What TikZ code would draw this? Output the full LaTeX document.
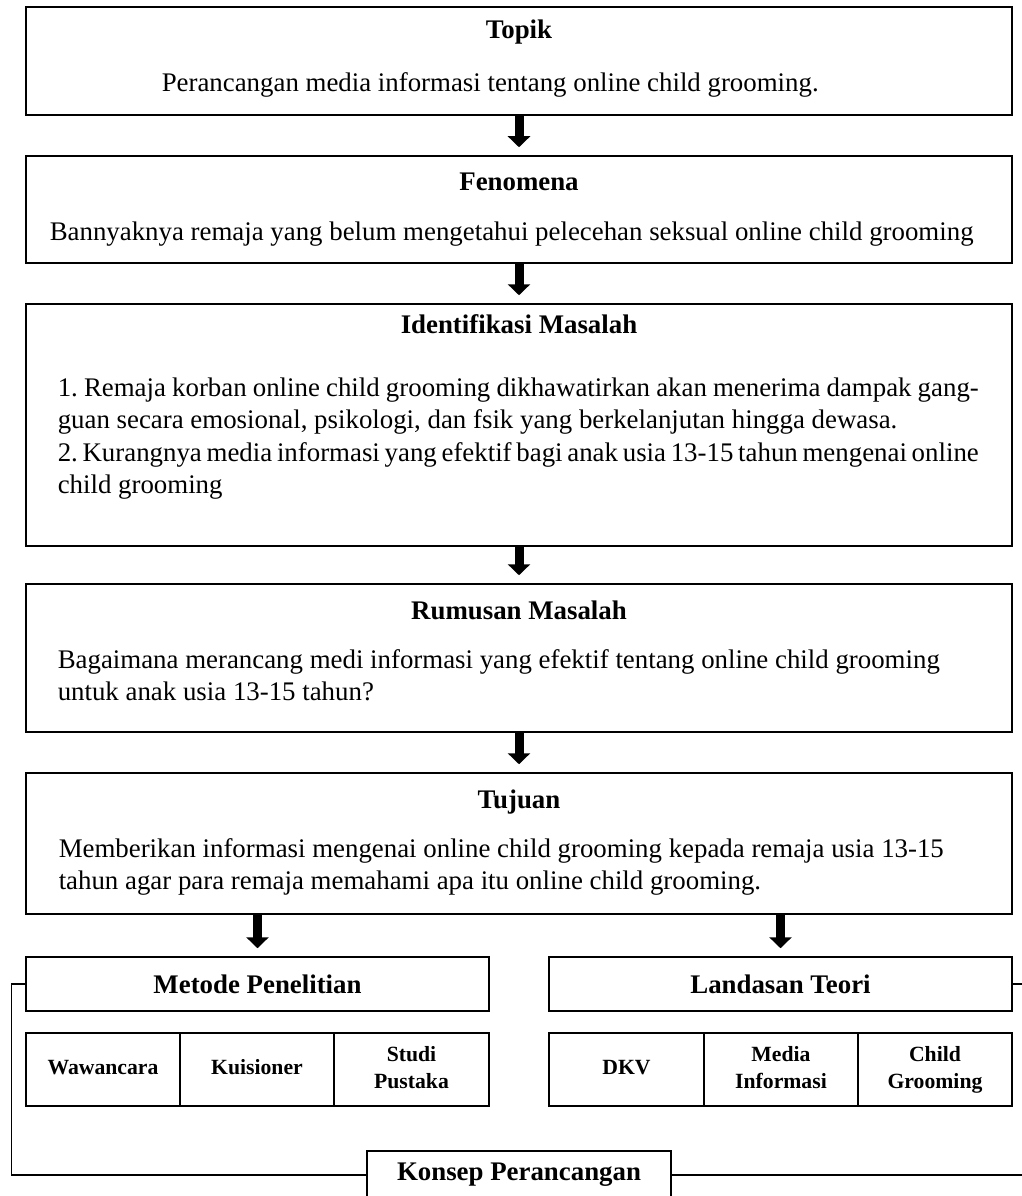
\documentclass[tikz,border=0pt]{standalone}
\usepackage{fontspec}
\setmainfont{Liberation Serif}
\usetikzlibrary{arrows.meta}
\frenchspacing

\begin{document}
\begin{tikzpicture}[x=1pt, y=-1pt, line width=1.5pt, font=\fontsize{26.85}{32.5}\selectfont]
  \tikzstyle{mybox}=[draw, rectangle, minimum width=986pt, inner sep=0pt]
  \tikzstyle{halfbox}=[draw, rectangle, minimum width=463pt, minimum height=54pt, inner sep=0pt, font=\fontsize{26.85}{32.5}\selectfont\bfseries]
  \tikzstyle{cell}=[draw, rectangle, minimum height=73pt, inner sep=0pt, align=center, font=\fontsize{21.7}{26.5}\selectfont\bfseries]
  \tikzstyle{title}=[anchor=base, inner sep=0pt, font=\fontsize{26.85}{32.5}\selectfont\bfseries]
  \tikzstyle{body}=[anchor=base west, inner sep=0pt]
  \tikzstyle{bigarrow}=[line width=9pt, -{Triangle[width=22pt,length=11pt]}, shorten >=8pt]

  \useasboundingbox (0,0) rectangle (1022,1196);

  \node[mybox, minimum height=108pt] (Topik) at (519, 61) {};
  \node[title] (TopikT) at (519, 39) {Topik};
  \node[body] (TopikB) at (161, 92) {Perancangan media informasi tentang online child grooming.};

  \node[mybox, minimum height=107pt] (Fenomena) at (519, 209.5) {};
  \node[title] (FenomenaT) at (519, 190) {Fenomena};
  \node[body] (FenomenaB) at (49, 240) {Bannyaknya remaja yang belum mengetahui pelecehan seksual online child grooming};

  \node[mybox, minimum height=242pt] (Identifikasi) at (519, 425) {};
  \node[title] (IdentifikasiT) at (519, 333) {Identifikasi Masalah};
  \node[body] (IdentifikasiB) at (57, 396) {\parbox[t]{921pt}{%
    \makebox[921pt][s]{1. Remaja korban online child grooming dikhawatirkan akan menerima dampak gang-}\\
    guan secara emosional, psikologi, dan fsik yang berkelanjutan hingga dewasa.\\
    \makebox[921pt][s]{2. Kurangnya media informasi yang efektif bagi anak usia 13-15 tahun mengenai online}\\
    child grooming}};

  \node[mybox, minimum height=148pt] (Rumusan) at (519, 658) {};
  \node[title] (RumusanT) at (519, 619) {Rumusan Masalah};
  \node[body] (RumusanB) at (57, 668) {\parbox[t]{940pt}{\raggedright
    Bagaimana merancang medi informasi yang efektif tentang online child grooming\\
    untuk anak usia 13-15 tahun?}};

  \node[mybox, minimum height=141pt] (Tujuan) at (519, 843.5) {};
  \node[title] (TujuanT) at (519, 808) {Tujuan};
  \node[body] (TujuanB) at (58, 857) {\parbox[t]{940pt}{\raggedright
    Memberikan informasi mengenai online child grooming kepada remaja usia 13-15\\
    tahun agar para remaja memahami apa itu online child grooming.}};

  \node[halfbox] (Metode) at (257.5, 984) {Metode Penelitian};
  \node[halfbox] (Landasan) at (780.5, 984) {Landasan Teori};

  \node[cell, minimum width=154pt] (Wawancara) at (103, 1069.5) {\strut Wawancara};
  \node[cell, minimum width=154pt] (Kuisioner) at (257, 1069.5) {\strut Kuisioner};
  \node[cell, minimum width=155pt] (StudiPustaka) at (411.5, 1069.5) {\strut Studi\\\strut Pustaka};

  \node[cell, minimum width=155pt] (DKV) at (626.5, 1069.5) {\strut DKV};
  \node[cell, minimum width=154pt] (MediaInformasi) at (781, 1069.5) {\strut Media\\\strut Informasi};
  \node[cell, minimum width=154pt] (ChildGrooming) at (935, 1069.5) {\strut Child\\\strut Grooming};

  \node[halfbox, minimum width=304pt, minimum height=48pt] (Konsep) at (519, 1175) {Konsep Perancangan};

  \draw[bigarrow] (Topik) -- (Fenomena);
  \draw[bigarrow] (Fenomena) -- (Identifikasi);
  \draw[bigarrow] (Identifikasi) -- (Rumusan);
  \draw[bigarrow] (Rumusan) -- (Tujuan);
  \draw[bigarrow] (Metode.north |- Tujuan.south) -- (Metode);
  \draw[bigarrow] (Landasan.north |- Tujuan.south) -- (Landasan);

  \draw (Metode.west) -- ++(-14, 0) |- (Konsep.west);
  \draw (Landasan.east) -- ++(16, 0) |- (Konsep.east);

\end{tikzpicture}
\end{document}
